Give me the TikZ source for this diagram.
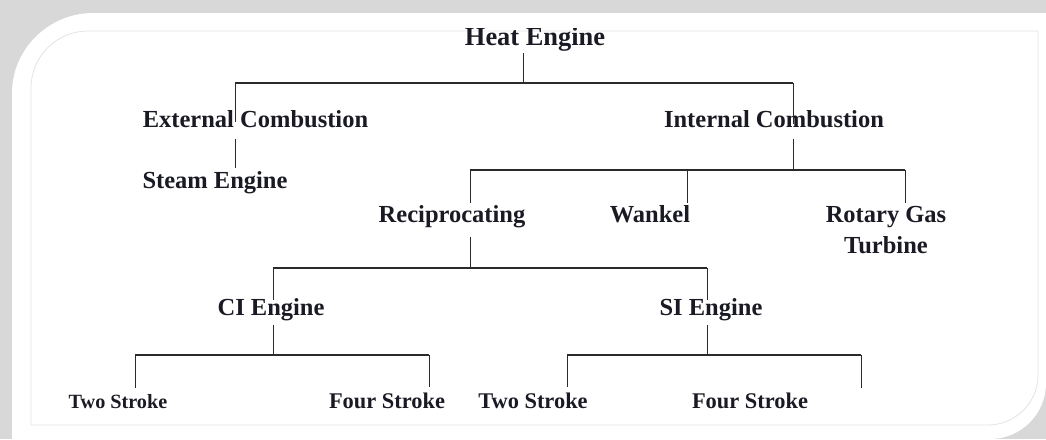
\documentclass[tikz,border=0pt]{standalone}
\usepackage{fontspec}
\setmainfont{Liberation Serif}[BoldFont={Liberation Serif Bold}]
\newfontfamily\tms{Liberation Serif Bold}
\usetikzlibrary{calc}
\definecolor{bg}{HTML}{D8D8D8}
\definecolor{txt}{HTML}{1A1A24}
\definecolor{ln}{HTML}{2A2A2A}
\definecolor{frame}{HTML}{E4E4E4}
\tikzset{
  lbl/.style={anchor=base, inner sep=0pt, text=txt, font=\tms\fontsize{24.5}{31}\selectfont},
  big/.style={font=\tms\fontsize{26.4}{31}\selectfont},
  smallA/.style={font=\tms\fontsize{20.2}{24}\selectfont},
  smallB/.style={font=\tms\fontsize{22.4}{26}\selectfont},
  hline/.style={draw=ln, line width=1.7pt},
  vline/.style={draw=ln, line width=0.9pt},
}
\begin{document}
\begin{tikzpicture}[x=1pt, y=-1pt]
\useasboundingbox (0,0) rectangle (1046,439);
% background card
\fill[bg] (0,0) rectangle (1046,439);
\fill[white] (12,439) -- (12,93) .. controls (12,49) and (49,13) .. (93,13) -- (1046,13)
  -- (1046,383) .. controls (1046,414) and (1021,439) .. (990,439) -- cycle;
\draw[frame, line width=0.8pt] (31,425) -- (31,88) .. controls (31,56.5) and (56.5,31) .. (88,31)
  -- (1038,31) -- (1038,375) .. controls (1038,402.6) and (1015.4,425) .. (988,425) -- cycle;

% nodes
\begin{scope}
\clip (0,28.5) rectangle (1046,439);
\node[lbl, big] (heat) at (535,45) {Heat Engine};
\end{scope}
\node[lbl] (ext) at (255.5,127) {External Combustion};
\node[lbl] (int) at (774,127) {Internal Combustion};
\node[lbl] (steam) at (215,188) {Steam Engine};
\node[lbl] (rec) at (452,222) {Reciprocating};
\node[lbl] (wan) at (650,222) {Wankel};
\node[lbl] (rot) at (886,222) {\begin{tabular}[t]{@{}c@{}}Rotary Gas\\Turbine\end{tabular}};
\node[lbl] (ci) at (271,315) {CI Engine};
\node[lbl] (si) at (711,315) {SI Engine};
\node[lbl, smallA] (ts1) at (118,408) {Two Stroke};
\node[lbl, smallB] (fs1) at (387,408) {Four Stroke};
\node[lbl, smallB] (ts2) at (533,408) {Two Stroke};
\node[lbl, smallB] (fs2) at (750,408) {Four Stroke};

% junctions
\coordinate (hJ) at (523,83);
\coordinate (eJ) at (235,83);
\coordinate (iJ) at (793,83);
\coordinate (iK) at (793,170);
\coordinate (rJ) at (470,170);
\coordinate (wJ) at (687,170);
\coordinate (tJ) at (905,170);
\coordinate (rK) at (470,268);
\coordinate (cJ) at (273,268);
\coordinate (sJ) at (707,268);
\coordinate (cK) at (273,355);
\coordinate (aJ) at (135,355);
\coordinate (bJ) at (429,355);
\coordinate (sK) at (707,355);
\coordinate (dJ) at (567,355);
\coordinate (fJ) at (861,355);
\coordinate (fEnd) at (861,388);

% level 0
\draw[vline] ($(heat.south -| hJ)+(0,2)$) -- (hJ);
\draw[hline] (eJ) -- (iJ);
\draw[vline] (eJ) -- ($(ext.north -| eJ)+(0,12)$);
\draw[vline] (iJ) -- ($(int.north -| iJ)+(0,14)$);
% external
\draw[vline] ($(ext.south -| eJ)+(0,11)$) -- ($(steam.north -| eJ)+(0,-3)$);
% internal
\draw[vline] ($(int.south -| iK)+(0,11)$) -- (iK);
\draw[hline] (rJ) -- (tJ);
\draw[vline] (rJ) -- ($(rec.north -| rJ)+(0,-2)$);
\draw[vline] (wJ) -- ($(wan.north -| wJ)+(0,-2)$);
\draw[vline] (tJ) -- ($(rot.north -| tJ)+(0,3)$);
% reciprocating
\draw[vline] ($(rec.south -| rK)+(0,9)$) -- (rK);
\draw[hline] (cJ) -- (sJ);
\draw[vline] (cJ) -- ($(ci.north -| cJ)+(0,2)$);
\draw[vline] (sJ) -- ($(si.north -| sJ)+(0,2)$);
% CI
\draw[vline] ($(ci.south -| cK)+(0,4)$) -- (cK);
\draw[hline] (aJ) -- (bJ);
\draw[vline] (aJ) -- ($(ts1.north -| aJ)+(0,-6)$);
\draw[vline] (bJ) -- ($(fs1.north -| bJ)+(0,-5)$);
% SI
\draw[vline] ($(si.south -| sK)+(0,4)$) -- (sK);
\draw[hline] (dJ) -- (fJ);
\draw[vline] (dJ) -- ($(ts2.north -| dJ)+(0,-5)$);
\draw[vline] (fJ) -- (fEnd);
\end{tikzpicture}
\end{document}
